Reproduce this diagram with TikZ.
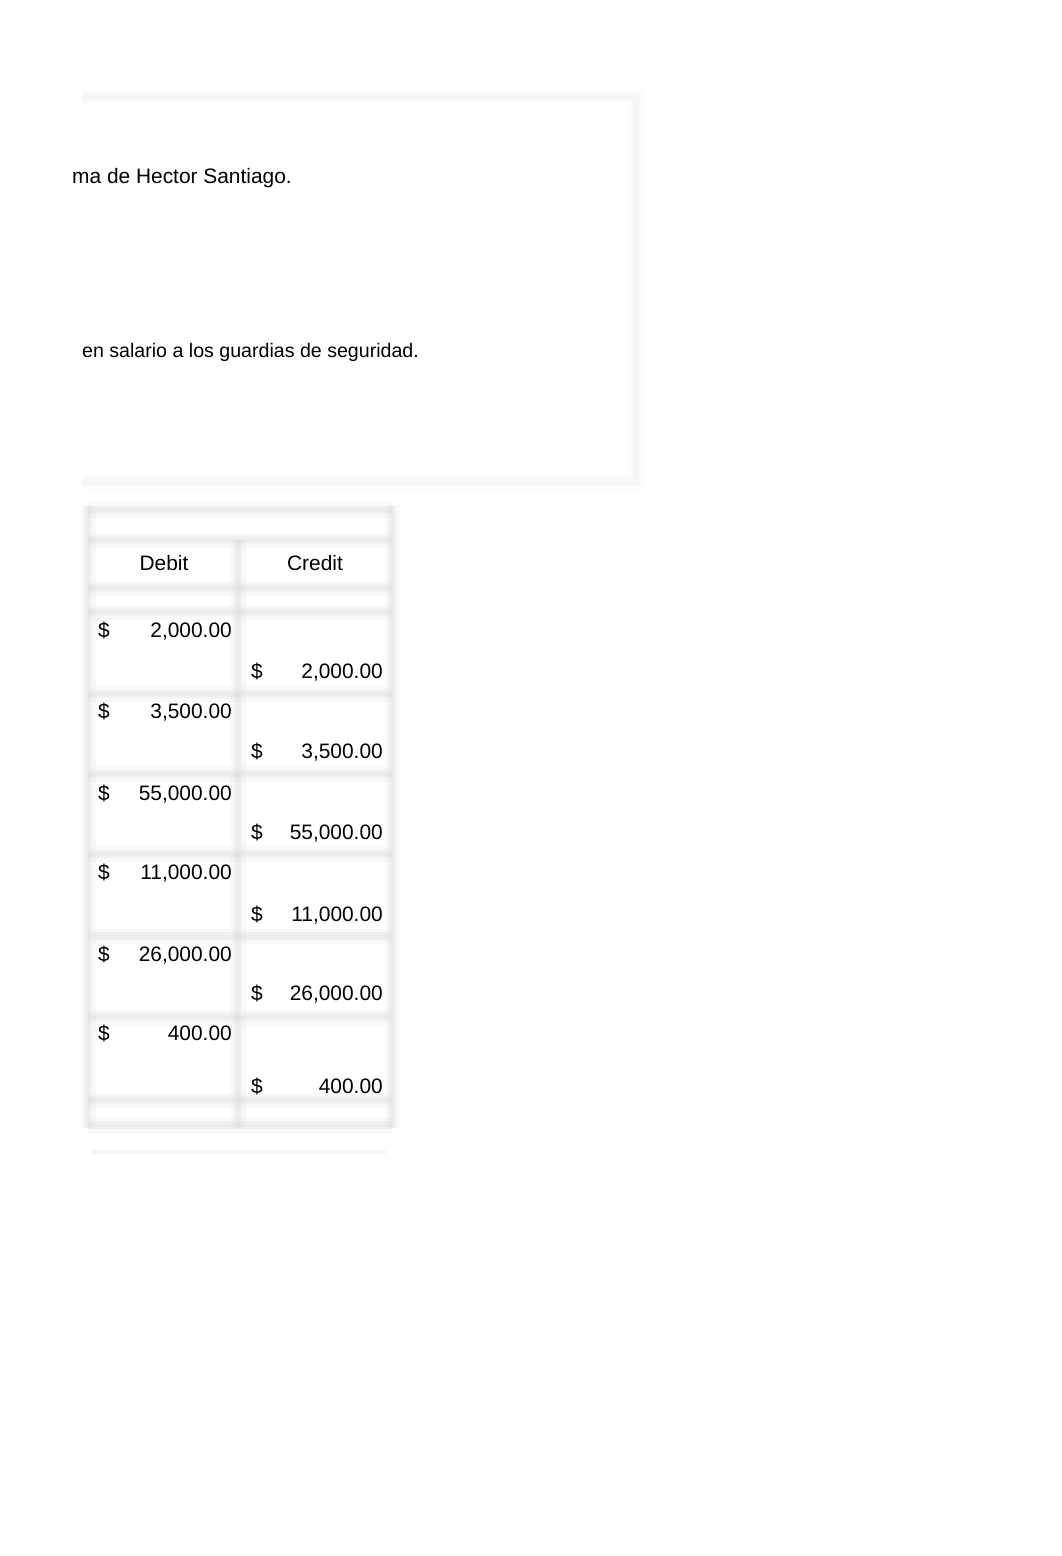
\documentclass[tikz,border=0pt]{standalone}
\usepackage{fontspec}
\setmainfont{Liberation Sans}
\begin{document}
\begin{tikzpicture}[x=1pt,y=-1pt,
  blurgrid/.style={draw=#1, line width=3pt, draw opacity=0.22, line cap=round,
    preaction={draw=#1, line width=8pt, draw opacity=0.32},
    preaction={draw=#1, line width=15pt, draw opacity=0.16}},
  txt/.style={inner sep=0pt, font=\fontsize{20.9}{25}\selectfont},
  amt/.style={txt, anchor=base east},
  dol/.style={txt, anchor=base west}]
\fill[white] (0,0) rectangle (1062,1556);
\useasboundingbox (0,0) rectangle (1062,1556);
% top box (very faint)
\draw[blurgrid=black!6] (82,97) -- (636,97) -- (636,482) -- (82,482);
% table grid
\foreach \yy in {510,540,588,612,694,774,854,936,1017,1100,1125}
  \draw[blurgrid=black!13] (88,\yy) -- (392,\yy);
\draw[blurgrid=black!13] (88,506) -- (88,1128);
\draw[blurgrid=black!13] (392,506) -- (392,1128);
\draw[blurgrid=black!13] (238,540) -- (238,1128);
\draw[draw=black!4, line width=4pt] (92,1152) -- (386,1152);
% texts
\node[txt, anchor=base west] (t1) at (72,183) {ma de Hector Santiago.};
\node[inner sep=0pt, font=\fontsize{19.6}{23}\selectfont, anchor=base west] (t2) at (82,357) {en salario a los guardias de seguridad.};
\node[txt, anchor=base] (hd) at (164,570) {Debit};
\node[txt, anchor=base] (hc) at (315,570) {Credit};
\foreach \n/\v/\yd/\yc in {a/{2,000.00}/637/678, b/{3,500.00}/718/758, c/{55,000.00}/800/839,
  d/{11,000.00}/879/921, e/{26,000.00}/961/1000, f/{400.00}/1040/1093} {
  \node[dol] (dd\n) at (98,\yd) {\$};
  \node[amt] (vd\n) at (232,\yd) {\v};
  \node[dol] (dc\n) at (251,\yc) {\$};
  \node[amt] (vc\n) at (383,\yc) {\v};
}
\end{tikzpicture}
\end{document}
